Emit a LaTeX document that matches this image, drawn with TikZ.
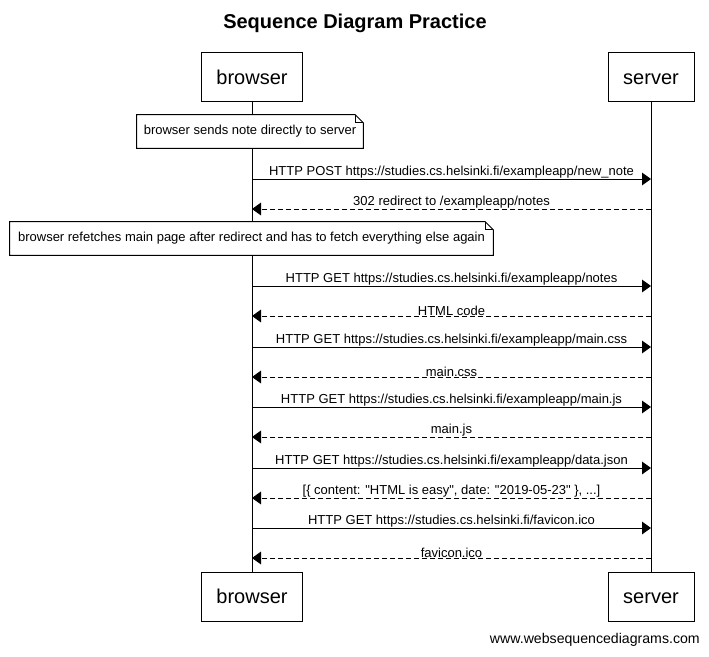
\documentclass[tikz,border=0pt]{standalone}
\usepackage{fontspec}
\setmainfont{Liberation Sans}
\usetikzlibrary{arrows.meta, calc, positioning}

\tikzset{
    actor/.style={draw, fill=white, line width=0.75pt, minimum width=75pt, minimum height=36.75pt,
        inner xsep=11pt, text height=11.5pt, text depth=0.3pt, font=\fontsize{15}{18}\selectfont},
    notebox/.style={fill=white, minimum height=24.75pt, inner xsep=5pt,
        font=\fontsize{9.75}{12}\selectfont},
    lifeline/.style={line width=0.75pt},
    msg/.style={line width=0.75pt, -{Triangle[length=6.75pt, width=9.5pt]}},
    reply/.style={msg, dash pattern=on 3.5pt off 2.5pt},
    lbl/.style={above, inner sep=0pt, font=\fontsize{9.75}{12}\selectfont}
}

\newcommand{\dogear}[1]{%
    \draw[line width=0.75pt] (#1.north west) -- ([xshift=-6pt]#1.north east) -- ([yshift=-6pt]#1.north east)
        -- (#1.south east) -- (#1.south west) -- cycle;
    \draw[line width=0.5pt] ([xshift=-6pt]#1.north east) -- ([xshift=-6pt, yshift=-6pt]#1.north east)
        -- ([yshift=-6pt]#1.north east);
}

\begin{document}
\begin{tikzpicture}[x=0.75pt, y=-0.75pt]
    \useasboundingbox (0, 0) rectangle (709, 656);
    \node[font=\fontsize{15}{18}\selectfont\bfseries] (title) at (355, 23) {Sequence Diagram Practice};

    % participants
    \node[actor] (browser) at (252, 77.5) {browser};
    \node[actor, minimum width=64.5pt] (server) at (651, 77.5) {server};
    \node[actor] (browserb) at (252, 596.5) {browser};
    \node[actor, minimum width=64.5pt] (serverb) at (651, 596.5) {server};
    \draw[lifeline] (browser) -- (browserb);
    \draw[lifeline] (server) -- (serverb);

    % notes
    \node[notebox, minimum width=169.5pt] (n1) at (250, 131.5) {browser sends note directly to server};
    \dogear{n1}
    \node[notebox, minimum width=362.25pt] (n2) at (251.5, 238.5) {browser refetches main page after redirect and has to fetch everything else again};
    \dogear{n2}

    % message rows
    \foreach \i/\y in {1/179, 2/209, 3/286, 4/316, 5/347, 6/377, 7/407, 8/437, 9/468, 10/498, 11/528, 12/558} {
        \coordinate (b\i) at (252, \y);
        \coordinate (s\i) at (651, \y);
    }

    \draw[msg] (b1) -- node[lbl] (m1) {HTTP POST https://studies.cs.helsinki.fi/exampleapp/new\_note} (s1);
    \draw[reply] (s2) -- node[lbl] (m2) {302 redirect to /exampleapp/notes} (b2);
    \draw[msg] (b3) -- node[lbl] (m3) {HTTP GET https://studies.cs.helsinki.fi/exampleapp/notes} (s3);
    \draw[reply] (s4) -- node[lbl] (m4) {HTML code} (b4);
    \draw[msg] (b5) -- node[lbl] (m5) {HTTP GET https://studies.cs.helsinki.fi/exampleapp/main.css} (s5);
    \draw[reply] (s6) -- node[lbl] (m6) {main.css} (b6);
    \draw[msg] (b7) -- node[lbl] (m7) {HTTP GET https://studies.cs.helsinki.fi/exampleapp/main.js} (s7);
    \draw[reply] (s8) -- node[lbl] (m8) {main.js} (b8);
    \draw[msg] (b9) -- node[lbl] (m9) {HTTP GET https://studies.cs.helsinki.fi/exampleapp/data.json} (s9);
    \draw[reply] (s10) -- node[lbl] (m10) {[\{ content: \textquotedbl HTML is easy\textquotedbl, date: \textquotedbl 2019-05-23\textquotedbl\ \}, ...]} (b10);
    \draw[msg] (b11) -- node[lbl] (m11) {HTTP GET https://studies.cs.helsinki.fi/favicon.ico} (s11);
    \draw[reply] (s12) -- node[lbl] (m12) {favicon.ico} (b12);

    \node[anchor=east, inner sep=0pt, font=\fontsize{10.6}{13}\selectfont] (site) at (700, 640) {www.websequencediagrams.com};
\end{tikzpicture}
\end{document}
